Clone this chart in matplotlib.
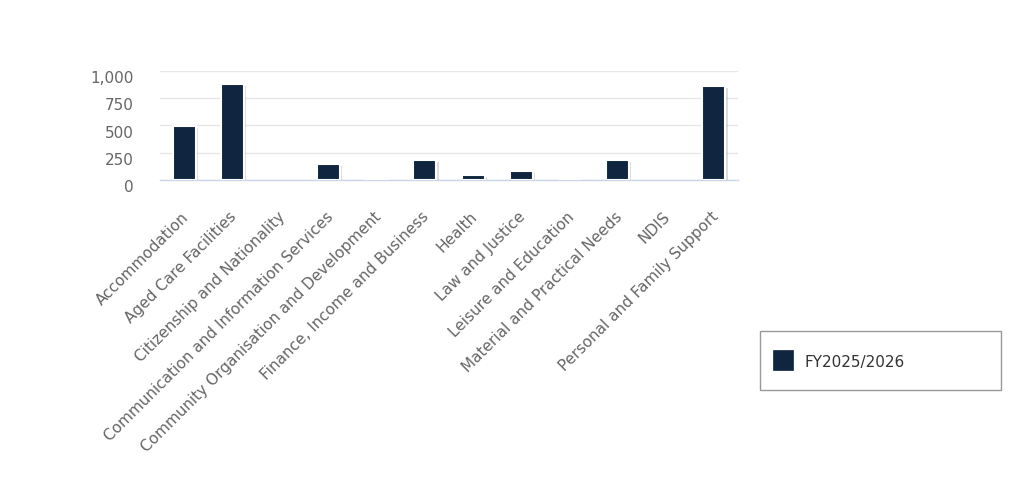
import matplotlib
matplotlib.use("Agg")
import matplotlib.pyplot as plt
import matplotlib.patheffects as pe
import matplotlib.transforms as mtransforms
from matplotlib.patches import Rectangle

plt.rcParams['font.family'] = ['DejaVu Sans']

categories = [
    "Accommodation",
    "Aged Care Facilities",
    "Citizenship and Nationality",
    "Communication and Information Services",
    "Community Organisation and Development",
    "Finance, Income and Business",
    "Health",
    "Law and Justice",
    "Leisure and Education",
    "Material and Practical Needs",
    "NDIS",
    "Personal and Family Support",
]
values = [495, 880, 0, 145, 15, 182, 49, 80, 3, 182, 0, 861]
series_name = "FY2025/2026"
yticks = [0, 250, 500, 750, 1000]

bar_color = "#0f2540"
label_color = "#666666"

W, H = 1024, 498
fig = plt.figure(figsize=(W / 100, H / 100), dpi=100)
ax = fig.add_axes([160 / W, 1 - 180 / H, 578 / W, 109 / H])

x = range(len(categories))
shadow = [pe.SimplePatchShadow(offset=(1.5, -1.5), shadow_rgbFace="#999999", alpha=0.35), pe.Normal()]
bars = ax.bar(x, values, width=0.48, color=bar_color, edgecolor="white", linewidth=1.5, zorder=3)
for b, v in zip(bars, values):
    if v > 0:
        b.set_path_effects(shadow)
    else:
        b.set_visible(False)

ax.set_xlim(-0.5, len(categories) - 0.5)
ax.set_ylim(0, 1000)
ax.set_yticks(yticks)
ax.set_yticklabels([f"{v:,}" for v in yticks], color=label_color, fontsize=11)
ax.tick_params(axis="y", length=0, pad=19)
# highcharts puts the y labels a little below their grid line
ydown = mtransforms.ScaledTranslation(0, -6 / 100, fig.dpi_scale_trans)
for lbl in ax.get_yticklabels():
    lbl.set_transform(lbl.get_transform() + ydown)
ax.grid(axis="y", color="#e6e6e6", linewidth=1, zorder=0)
ax.set_axisbelow(True)

ax.set_xticks(list(x))
ax.set_xticklabels(categories, rotation=45, ha="right", va="center",
                   rotation_mode="anchor", color=label_color, fontsize=11)
ax.tick_params(axis="x", length=0, pad=25)
xshift = mtransforms.ScaledTranslation(2 / 100, 0, fig.dpi_scale_trans)
for lbl in ax.get_xticklabels():
    lbl.set_transform(lbl.get_transform() + xshift)

for side in ["top", "right", "left"]:
    ax.spines[side].set_visible(False)
ax.spines["bottom"].set_color("#ccd6eb")
ax.spines["bottom"].set_linewidth(1)

# legend box drawn by hand so its size matches the original
fig.patches.append(Rectangle((760 / W, 1 - 390 / H), 241 / W, 59 / H,
                             transform=fig.transFigure, facecolor="white",
                             edgecolor="#999999", linewidth=1))
fig.patches.append(Rectangle((773 / W, 1 - 370 / H), 20 / W, 20 / H,
                             transform=fig.transFigure, facecolor=bar_color,
                             edgecolor=bar_color, linewidth=0.5))
fig.text(804 / W, 1 - 362 / H, series_name, fontsize=11, color="#333333",
         ha="left", va="center")

fig.savefig("out.png", dpi=100)
